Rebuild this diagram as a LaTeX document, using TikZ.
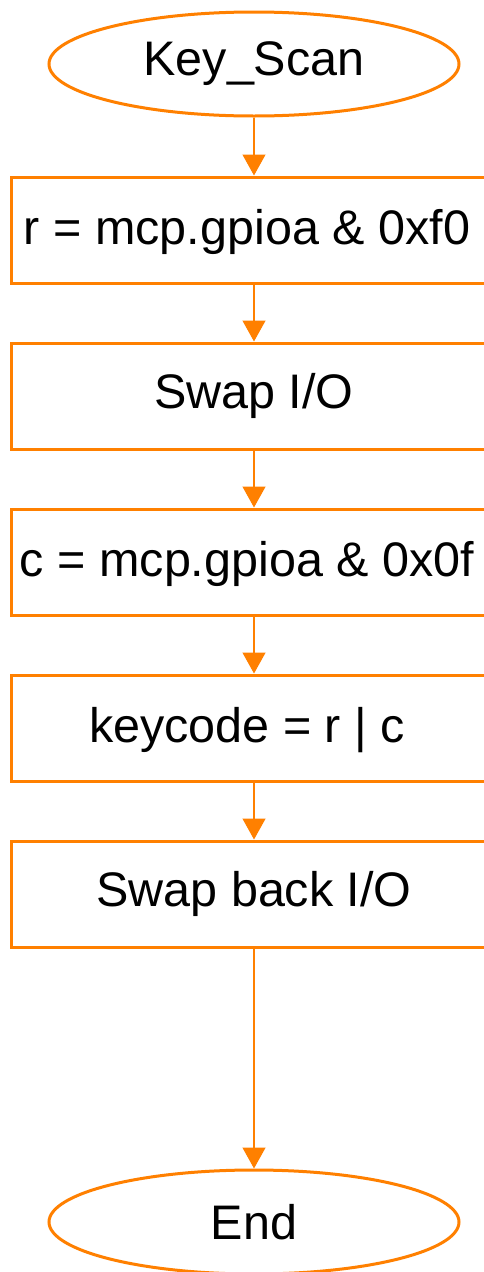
\documentclass[tikz,border=0pt]{standalone}
\usepackage{fontspec}
\setmainfont{Liberation Sans}
\usetikzlibrary{shapes.geometric,arrows.meta}
\definecolor{flow}{HTML}{FF8000}
\begin{document}
\begin{tikzpicture}[x=1pt,y=-1pt,
  every node/.style={font=\fontsize{48.5}{52}\selectfont, text=black},
  terminal/.style={ellipse, draw=flow, line width=3pt, minimum width=410pt, minimum height=104pt, inner sep=0pt},
  stepbox/.style={rectangle, draw=flow, line width=3pt, minimum width=486pt, minimum height=106pt, inner sep=0pt},
  link/.style={draw=flow, line width=1.3pt, -{Triangle[width=23pt,length=21pt]}}
]
\useasboundingbox (0,0) rectangle (484,1272);
\clip (0,0) rectangle (484,1272);
\fill[white] (0,0) rectangle (484,1272);

\node[terminal] (start) at (254,64) {Key\_Scan};
\node[stepbox] (s1) at (254,230) {};
\node at (247,232) {r = mcp.gpioa \& 0xf0};
\node[stepbox] (s2) at (254,396) {Swap I/O};
\node[stepbox] (s3) at (254,562) {};
\node at (247,564) {c = mcp.gpioa \& 0x0f};
\node[stepbox] (s4) at (254,728) {};
\node at (247,730) {keycode = r | c};
\node[stepbox] (s5) at (254,894) {Swap back I/O};
\node[terminal] (stop) at (254,1222) {End};

\draw[link] (start) -- (s1);
\draw[link] (s1) -- (s2);
\draw[link] (s2) -- (s3);
\draw[link] (s3) -- (s4);
\draw[link] (s4) -- (s5);
\draw[link] (s5) -- (stop);
\end{tikzpicture}
\end{document}
